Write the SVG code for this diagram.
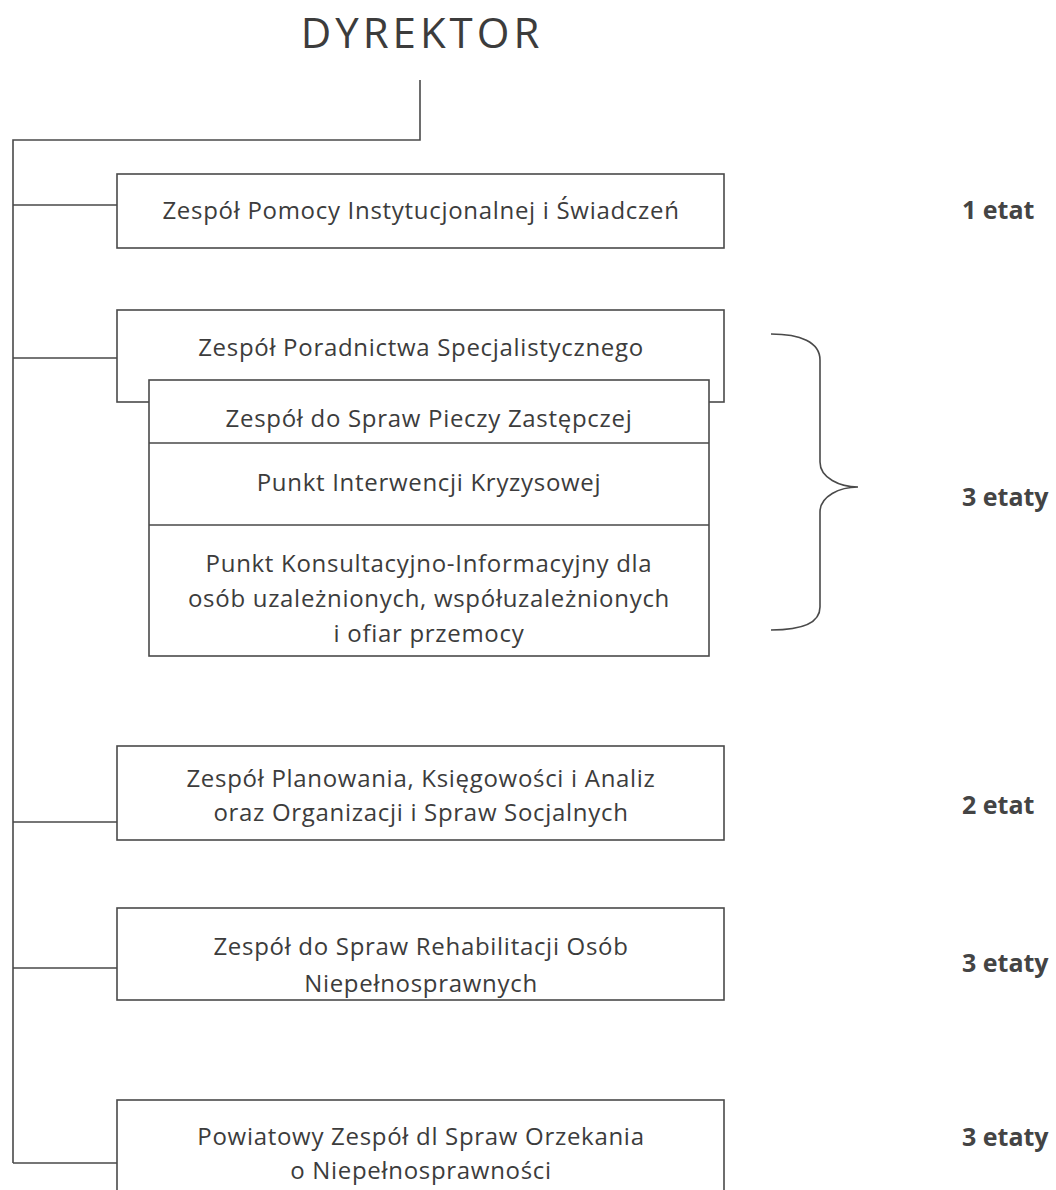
<svg xmlns="http://www.w3.org/2000/svg" width="1056" height="1190" viewBox="0 0 1056 1190">
<style>
.t{font-family:"Open Sans","Liberation Sans",sans-serif;font-size:24px;letter-spacing:0.7px;fill:#3c3c3c;text-anchor:middle}
.e{font-family:"Open Sans","Liberation Sans",sans-serif;font-size:25px;font-weight:bold;fill:#444}
.b{fill:#fff;stroke:#4a4a4a;stroke-width:1.6}
.c{fill:none;stroke:#4a4a4a;stroke-width:1.6}
</style>
<rect width="1056" height="1190" fill="#fff"/>
<g id="dyrektor"><text x="422" y="48" style="font-family:'Open Sans','Liberation Sans',sans-serif;font-size:42px;fill:#3c3c3c;text-anchor:middle;letter-spacing:4px">DYREKTOR</text></g>
<g id="connectors">
<path class="c" d="M420 80V140H13V1163"/>
<path class="c" d="M13 205H117M13 358H117M13 822H117M13 968H117M13 1163H117"/>
</g>
<g id="n1"><rect class="b" x="117" y="174" width="607" height="74"/><text class="t" x="421" y="219">Zespół Pomocy Instytucjonalnej i Świadczeń</text></g>
<g id="n2"><rect class="b" x="117" y="310" width="607" height="92"/><text class="t" x="421" y="356">Zespół Poradnictwa Specjalistycznego</text></g>
<g id="n2a"><rect class="b" x="149" y="380" width="560" height="276"/>
<path class="c" d="M149 443H709M149 525H709"/>
<text class="t" x="429" y="427">Zespół do Spraw Pieczy Zastępczej</text>
<text class="t" x="429" y="491">Punkt Interwencji Kryzysowej</text>
<text class="t" x="429" y="572">Punkt Konsultacyjno-Informacyjny dla</text>
<text class="t" x="429" y="607">osób uzależnionych, współuzależnionych</text>
<text class="t" x="429" y="642">i ofiar przemocy</text></g>
<g id="brace"><path class="c" d="M771 334C800 334 820 342 820 360V462C820 478 840 487 858 487C840 487 820 496 820 512V607C820 624 800 630 771 630"/></g>
<g id="n3"><rect class="b" x="117" y="746" width="607" height="94"/><text class="t" x="421" y="787">Zespół Planowania, Księgowości i Analiz</text><text class="t" x="421" y="821">oraz Organizacji i Spraw Socjalnych</text></g>
<g id="n4"><rect class="b" x="117" y="908" width="607" height="92"/><text class="t" x="421" y="955">Zespół do Spraw Rehabilitacji Osób</text><text class="t" x="421" y="992">Niepełnosprawnych</text></g>
<g id="n5"><rect class="b" x="117" y="1100" width="607" height="100"/><text class="t" x="421" y="1145">Powiatowy Zespół dl Spraw Orzekania</text><text class="t" x="421" y="1179">o Niepełnosprawności</text></g>
<text class="e" x="962" y="219">1 etat</text>
<text class="e" x="962" y="506">3 etaty</text>
<text class="e" x="962" y="814">2 etat</text>
<text class="e" x="962" y="972">3 etaty</text>
<text class="e" x="962" y="1146">3 etaty</text>
</svg>
